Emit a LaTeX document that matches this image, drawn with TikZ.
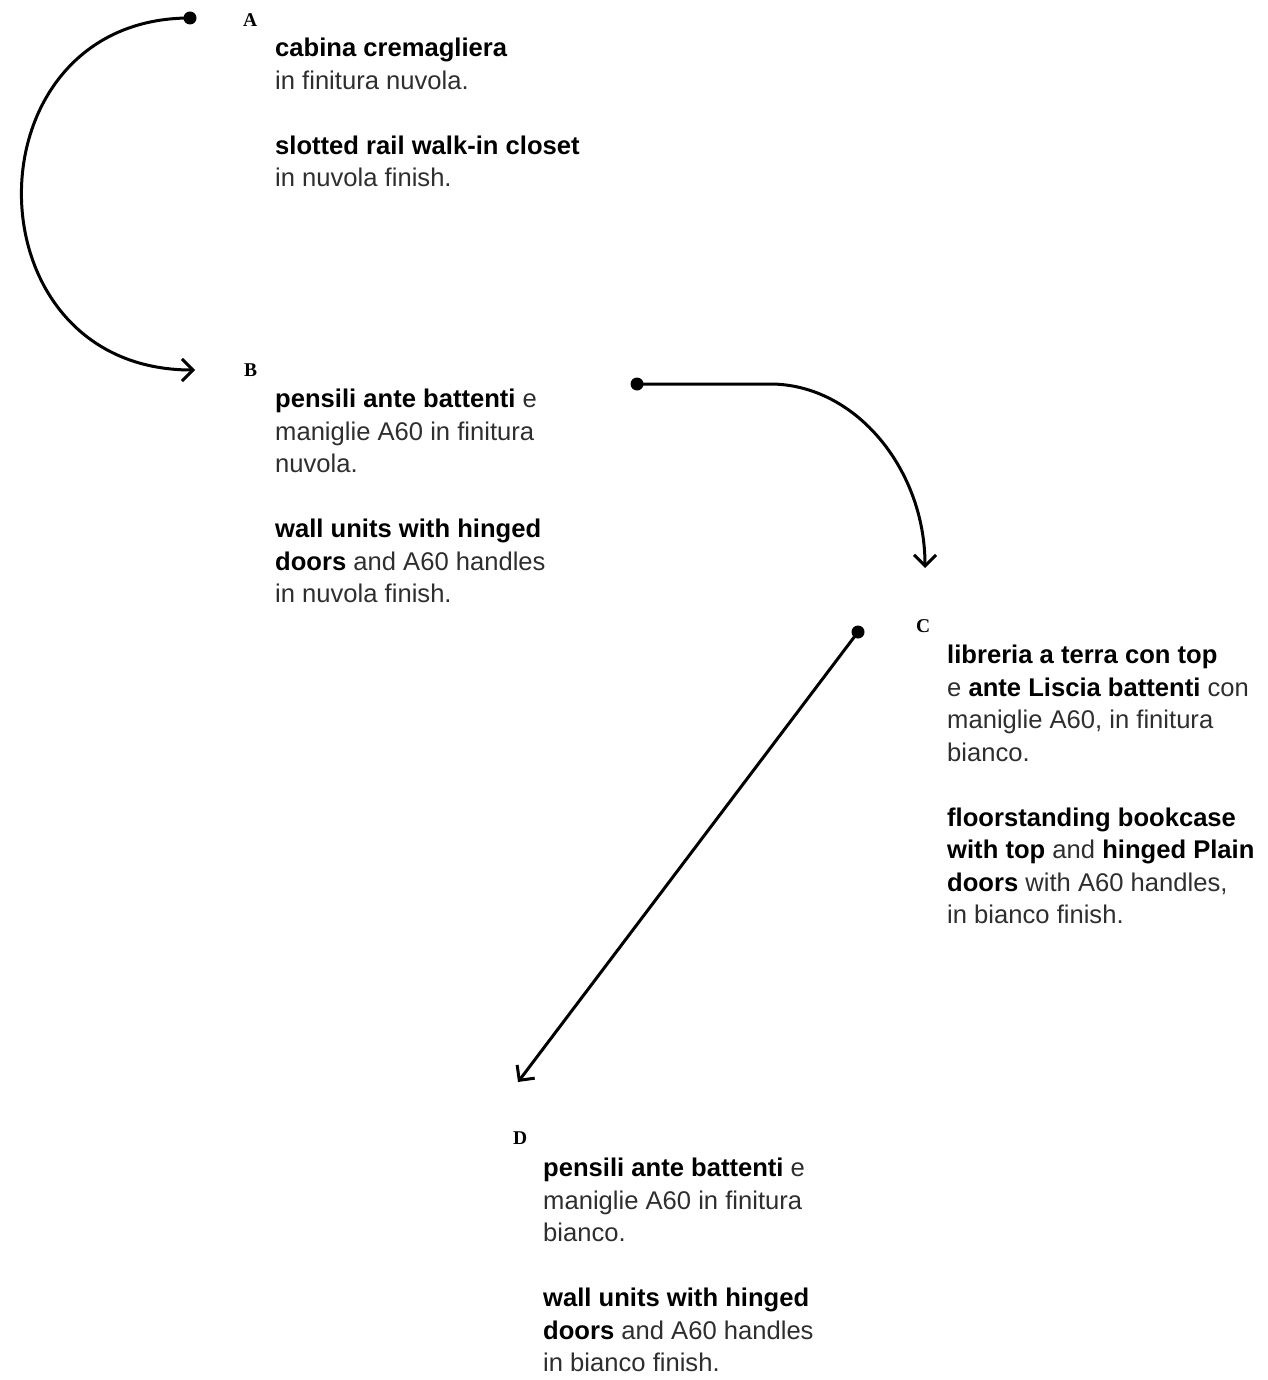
\documentclass[tikz,border=0pt]{standalone}
\usepackage{fontspec}
\usepackage{xcolor}
\setmainfont{Liberation Sans}
\newfontfamily\tagfont{Liberation Serif}
\usetikzlibrary{arrows.meta, positioning, calc}
\newcommand{\hl}[1]{\textcolor{black}{\bfseries #1}}
\tikzset{
    tag/.style={font=\tagfont\bfseries\fontsize{19.5}{19.5}\selectfont, inner sep=0pt, anchor=north west},
    desc/.style={font=\fontsize{25.6}{32.5}\selectfont, align=left, inner sep=0pt, anchor=north west, text=black!82},
    dot/.style={circle, fill=black, inner sep=0pt, minimum size=13pt},
    link/.style={line width=3pt, -{Straight Barb[length=11pt, width=22pt]}}
}

\begin{document}
\begin{tikzpicture}[x=1pt, y=-1pt]
  \useasboundingbox (0,0) rectangle (1267,1380);
  % labels and descriptions
  \node[tag] (tagA) at (243,13) {A};
  \node[desc] (txtA) at (275,38) {\hl{cabina cremagliera}\\ in finitura nuvola.\\[32.5pt]
    \hl{slotted rail walk-in closet}\\ in nuvola finish.};
  \node[tag] (tagB) at (244,364) {B};
  \node[desc] (txtB) at (275,389) {\hl{pensili ante battenti} e\\ maniglie A60 in finitura\\ nuvola.\\[32.5pt]
    \hl{wall units with hinged}\\ \hl{doors} and A60 handles\\ in nuvola finish.};
  \node[tag] (tagC) at (916,619) {C};
  \node[desc] (txtC) at (947,645) {\hl{libreria a terra con top}\\ e \hl{ante Liscia battenti} con\\ maniglie A60, in finitura\\ bianco.\\[32.5pt]
    \hl{floorstanding bookcase}\\ \hl{with top} and \hl{hinged Plain}\\ \hl{doors} with A60 handles,\\ in bianco finish.};
  \node[tag] (tagD) at (513,1132) {D};
  \node[desc] (txtD) at (543,1158) {\hl{pensili ante battenti} e\\ maniglie A60 in finitura\\ bianco.\\[32.5pt]
    \hl{wall units with hinged}\\ \hl{doors} and A60 handles\\ in bianco finish.};
  % dots and arrow ends
  \node[dot] (dotA) at (190,18) {};
  \node[dot] (dotB) at (637,384) {};
  \node[dot] (dotC) at (858,632) {};
  \coordinate (inB) at (195,370);
  \coordinate (inC) at (925,568);
  \coordinate (inD) at (518,1082);
  % connectors
  \draw[link] (dotA.center) .. controls (-35,18) and (-35,370) .. (inB);
  \draw[link] (dotB.center) -- (770,384) .. controls (856,384) and (925,470) .. (inC);
  \draw[link] (dotC.center) -- (inD);
\end{tikzpicture}
\end{document}
